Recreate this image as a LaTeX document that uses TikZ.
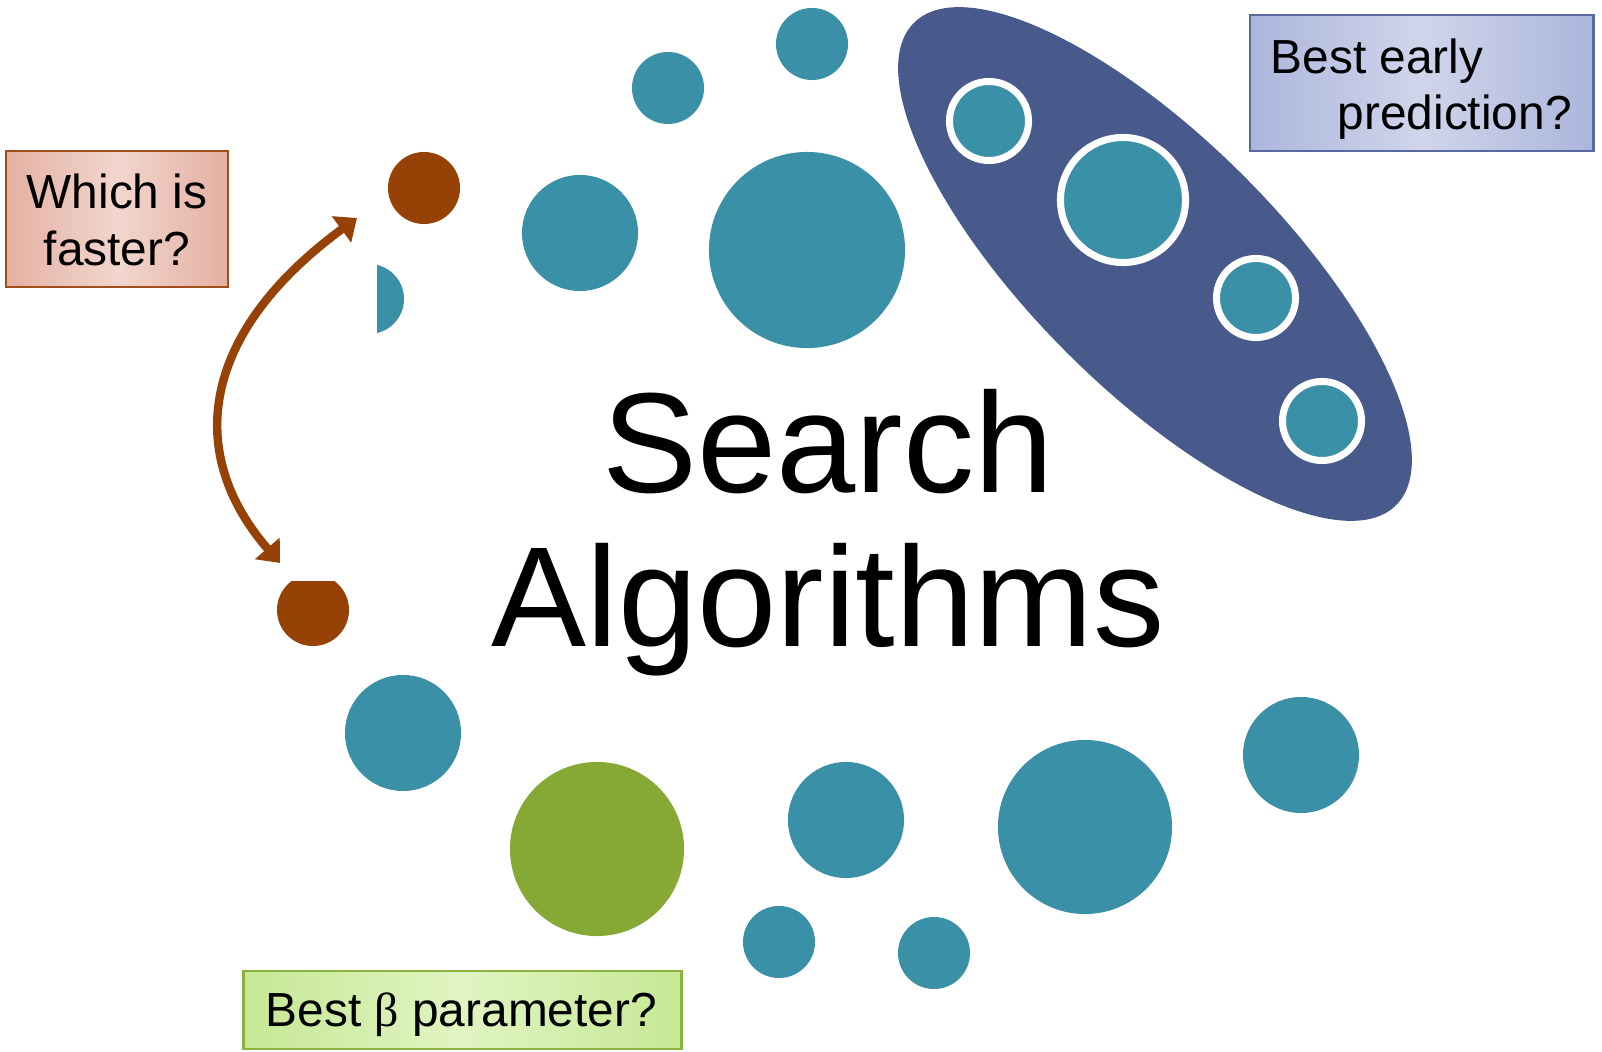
\documentclass[tikz,border=0pt]{standalone}
\usepackage{fontspec}
\setmainfont{Liberation Sans}
\newfontfamily\betafont{Liberation Serif}
\usetikzlibrary{arrows.meta}

\definecolor{dotteal}{RGB}{58,145,167}
\definecolor{dotbrown}{RGB}{150,65,5}
\definecolor{dotgreen}{RGB}{133,169,52}
\definecolor{ovalblue}{RGB}{72,90,140}
\definecolor{redfillA}{RGB}{228,176,162}
\definecolor{redfillB}{RGB}{242,214,206}
\definecolor{redline}{RGB}{160,78,28}
\definecolor{bluefillA}{RGB}{172,182,220}
\definecolor{bluefillB}{RGB}{208,213,235}
\definecolor{blueline}{RGB}{88,104,160}
\definecolor{greenfillA}{RGB}{198,232,148}
\definecolor{greenfillB}{RGB}{224,244,194}
\definecolor{greenline}{RGB}{138,178,60}

\begin{document}
\begin{tikzpicture}[x=0.01cm,y=-0.01cm,
  dot/.style={circle, inner sep=0pt, minimum size=#1, fill=dotteal},
  browndot/.style={dot=#1, fill=dotbrown},
  greendot/.style={dot=#1, fill=dotgreen},
  ringdot/.style={dot=#1, draw=white, line width=2pt},
  qbox/.style={rectangle, inner sep=0pt, line width=0.8pt},
  redbox/.style={qbox, draw=redline, left color=redfillA, right color=redfillA, middle color=redfillB},
  bluebox/.style={qbox, draw=blueline, left color=bluefillA, right color=bluefillA, middle color=bluefillB},
  greenbox/.style={qbox, draw=greenline, left color=greenfillA, right color=greenfillA, middle color=greenfillB},
  qtext/.style={inner sep=0pt, font=\fontsize{13.6}{16}\selectfont},
  title/.style={inner sep=0pt, font=\fontsize{40.5}{44}\selectfont},
  swap/.style={draw=dotbrown, line width=2.4pt,
    {Triangle[length=5.5pt,width=9pt]}-{Triangle[length=5.5pt,width=9pt]}}
]
\useasboundingbox (0,0) rectangle (1602,1052);

% grouped circles inside the oval
\fill[ovalblue, rotate around={-45:(1155,264)}] (1155,264) ellipse [x radius=341, y radius=125];
\node[ringdot=0.79cm] (g1) at (989,121) {};
\node[ringdot=1.25cm] (g2) at (1123,200) {};
\node[ringdot=0.79cm] (g3) at (1256,298) {};
\node[ringdot=0.79cm] (g4) at (1322,421) {};

% scattered circles
\node[dot=0.72cm] (t1) at (812,44) {};
\node[dot=0.72cm] (t2) at (668,88) {};
\node[dot=1.16cm] (t3) at (580,233) {};
\node[dot=1.96cm] (t4) at (807,250) {};
\node[dot=1.16cm] (t5) at (403,733) {};
\node[dot=1.16cm] (t6) at (846,820) {};
\node[dot=1.74cm] (t7) at (1085,827) {};
\node[dot=1.16cm] (t8) at (1301,755) {};
\node[dot=0.72cm] (t9) at (779,942) {};
\node[dot=0.72cm] (t10) at (934,953) {};
\node[greendot=1.74cm] (gr) at (597,849) {};
\node[browndot=0.72cm] (b1) at (424,188) {};
\begin{scope}
  \clip (377,240) rectangle (460,360);
  \node[dot=0.70cm] (half) at (369,299) {};
\end{scope}
\begin{scope}
  \clip (260,582) rectangle (380,660);
  \node[browndot=0.72cm] (b2) at (313,610) {};
\end{scope}

% swap arrow between the two brown circles
\coordinate (tipLow) at (280,563);
\coordinate (tipUp) at (357,218);
\draw[swap] (tipLow) .. controls (186,455) and (198,335) .. (tipUp);

% title
\node[title, anchor=base] (s1) at (828,493) {Search};
\node[title, anchor=base] (s2) at (828,647) {Algorithms};

% question boxes
\node[redbox, minimum width=2.22cm, minimum height=1.36cm] (qr) at (117,219) {};
\node[qtext, anchor=base] (qr1) at (117,209) {Which is};
\node[qtext, anchor=base] (qr2) at (117,266) {faster?};

\node[bluebox, minimum width=3.43cm, minimum height=1.36cm] (qb) at (1421.5,83) {};
\node[qtext, anchor=base west] (qb1) at (1270,74) {Best early};
\node[qtext, anchor=base west] (qb2) at (1337,130) {prediction?};

\node[greenbox, minimum width=4.37cm, minimum height=0.78cm] (qg) at (462.5,1010) {};
\node[qtext, anchor=base west] (qg1) at (265,1027) {Best {\betafont β} parameter?};
\end{tikzpicture}
\end{document}
